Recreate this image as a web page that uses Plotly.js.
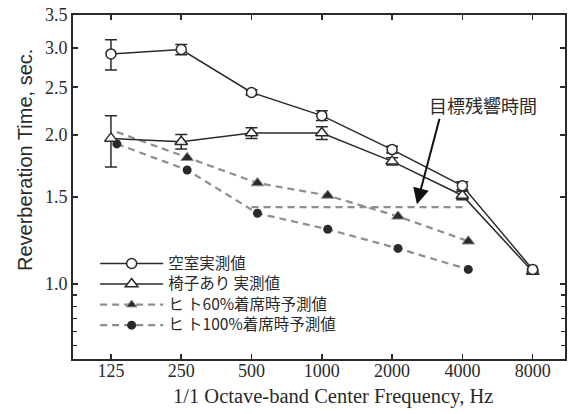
<!DOCTYPE html>
<html>
<head>
<meta charset="utf-8">
<script src="https://cdn.plot.ly/plotly-3.0.1.min.js"></script>
<style>html,body{margin:0;padding:0;background:#fff;}#chart{width:569px;height:414px;}</style>
</head>
<body>
<div id="chart"></div>
<script>
// ---- data ----
const freqs = [125, 250, 500, 1000, 2000, 4000, 8000];
const freqLabels = ['125', '250', '500', '1000', '2000', '4000', '8000'];
const predFreqs = [125, 250, 500, 1000, 2000, 4000];

const emptyRoom = [2.92, 2.98, 2.44, 2.19, 1.87, 1.58, 1.07];
const emptyRoomErrPlus = [0.20, 0.07, 0.03, 0.05, 0.03, 0.03, 0.0];
const emptyRoomErrMinus = [0.21, 0.07, 0.03, 0.05, 0.03, 0.03, 0.0];

const withChairs = [1.97, 1.94, 2.02, 2.02, 1.77, 1.51, 1.06];
const withChairsErrPlus = [0.22, 0.065, 0.05, 0.06, 0.03, 0.03, 0.0];
const withChairsErrMinus = [0.245, 0.065, 0.05, 0.06, 0.03, 0.03, 0.0];

const pred60 = [2.03, 1.80, 1.60, 1.51, 1.37, 1.22];
const pred100 = [1.92, 1.70, 1.39, 1.29, 1.18, 1.07];

const targetFreqs = [500, 4000];
const targetRT = [1.43, 1.43];

const names = ['空室実測値', '椅子あり 実測値', 'ヒ ト60%着席時予測値', 'ヒ ト100%着席時予測値'];
const xTitle = '1/1 Octave-band Center Frequency, Hz';
const yTitle = 'Reverberation Time, sec.';
const targetLabel = '目標残響時間';
const yTickVals = [1.0, 1.5, 2.0, 2.5, 3.0, 3.5];
const yTickText = ['1.0', '1.5', '2.0', '2.5', '3.0', '3.5'];
const yMinorVals = [0.75, 0.8, 0.85, 0.9, 0.95];

// ---- styling ----
const PRED_SHIFT = 1.06; // small horizontal dodge of the predicted series
const dark = '#2a2a2a';
const gray = '#8e8e8e';
const serif = 'Liberation Serif, Times New Roman, serif';
const jp = 'Noto Sans CJK JP, sans-serif';
const leg = s => '<span style="font-size:15.5px">' + s + '</span>';

const traces = [
  {
    x: targetFreqs, y: targetRT, mode: 'lines', showlegend: false, hoverinfo: 'skip',
    line: {color: gray, width: 2.2, dash: '7px,5px'}
  },
  {
    name: leg(names[3]), legendrank: 4, x: predFreqs.map(f => f * PRED_SHIFT), y: pred100, mode: 'lines+markers',
    line: {color: gray, width: 2.2, dash: '7px,5px'},
    marker: {symbol: 'circle', size: 9, color: dark, opacity: 1}
  },
  {
    name: leg(names[2]), legendrank: 3, x: predFreqs.map(f => f * PRED_SHIFT), y: pred60, mode: 'lines+markers',
    line: {color: gray, width: 2.2, dash: '7px,5px'},
    marker: {symbol: 'triangle-up', size: predFreqs.map((f, i) => i === 0 ? 0 : 11), color: dark, opacity: 1}
  },
  {
    name: leg(names[1]), legendrank: 2, x: freqs, y: withChairs, mode: 'lines+markers',
    line: {color: dark, width: 1.5},
    marker: {symbol: 'triangle-up', size: 11, color: '#fff', line: {color: dark, width: 1.5}},
    error_y: {type: 'data', symmetric: false, array: withChairsErrPlus, arrayminus: withChairsErrMinus,
              color: dark, thickness: 1.5, width: 6}
  },
  {
    name: leg(names[0]), legendrank: 1, x: freqs, y: emptyRoom, mode: 'lines+markers',
    line: {color: dark, width: 1.5},
    marker: {symbol: 'circle', size: 10, color: '#fff', line: {color: dark, width: 1.5}},
    error_y: {type: 'data', symmetric: false, array: emptyRoomErrPlus, arrayminus: emptyRoomErrMinus,
              color: dark, thickness: 1.5, width: 6}
  }
];

const log2 = Math.log10(2);
const x0 = Math.log10(125);

const layout = {
  width: 569, height: 414,
  margin: {l: 73, r: 4, t: 15, b: 55},
  paper_bgcolor: '#fff', plot_bgcolor: '#fff',
  showlegend: true,
  legend: {
    x: 0.045, y: 0.322, xanchor: 'left', yanchor: 'top',
    traceorder: 'normal', itemwidth: 63,
    font: {family: jp, size: 13.5, color: dark},
    bgcolor: 'rgba(0,0,0,0)', borderwidth: 0
  },
  xaxis: {
    type: 'log',
    range: [x0 - 0.54 * log2, x0 + 6.46 * log2],
    tickvals: freqs, ticktext: freqLabels,
    ticks: 'inside', ticklen: 5, tickwidth: 1.5, tickcolor: dark,
    showline: true, linecolor: dark, linewidth: 2, mirror: 'ticks',
    showgrid: false, zeroline: false, ticklabelstandoff: -6,
    tickfont: {family: serif, size: 18, color: dark}
  },
  yaxis: {
    type: 'log',
    range: [Math.log10(0.705), Math.log10(3.5)],
    tickvals: yTickVals, ticktext: yTickText,
    ticks: 'inside', ticklen: 5, tickwidth: 1.5, tickcolor: dark,
    showline: true, linecolor: dark, linewidth: 2, mirror: 'ticks',
    showgrid: false, zeroline: false,
    tickfont: {family: serif, size: 18, color: dark},
    minor: {tickvals: yMinorVals, ticks: 'inside', ticklen: 4, tickwidth: 1.2, tickcolor: dark, showgrid: false}
  },
  annotations: [
    {
      xref: 'paper', yref: 'paper', x: (333 - 73) / 492, y: (359 - 396) / 344,
      xanchor: 'center', yanchor: 'middle', showarrow: false,
      text: xTitle, font: {family: serif, size: 20.5, color: dark}
    },
    {
      xref: 'paper', yref: 'paper', x: (25 - 73) / 492, y: (359 - 160) / 344,
      xanchor: 'center', yanchor: 'middle', showarrow: false, textangle: -90,
      text: yTitle, font: {family: 'Liberation Sans, Arial, sans-serif', size: 20, color: dark}
    },
    {
      xref: 'paper', yref: 'paper', x: 0.833, y: 0.738, xanchor: 'center', yanchor: 'middle',
      text: targetLabel, showarrow: false,
      font: {family: jp, size: 18, color: dark}
    },
    {
      x: Math.log10(2554), y: Math.log10(1.45), xref: 'x', yref: 'y',
      text: '', showarrow: true, ax: 23, ay: -87,
      arrowhead: 2, arrowsize: 1.6, arrowwidth: 2, arrowcolor: '#111', standoff: 0
    }
  ]
};

Plotly.newPlot('chart', traces, layout, {displayModeBar: false, staticPlot: true});
</script>
</body>
</html>
